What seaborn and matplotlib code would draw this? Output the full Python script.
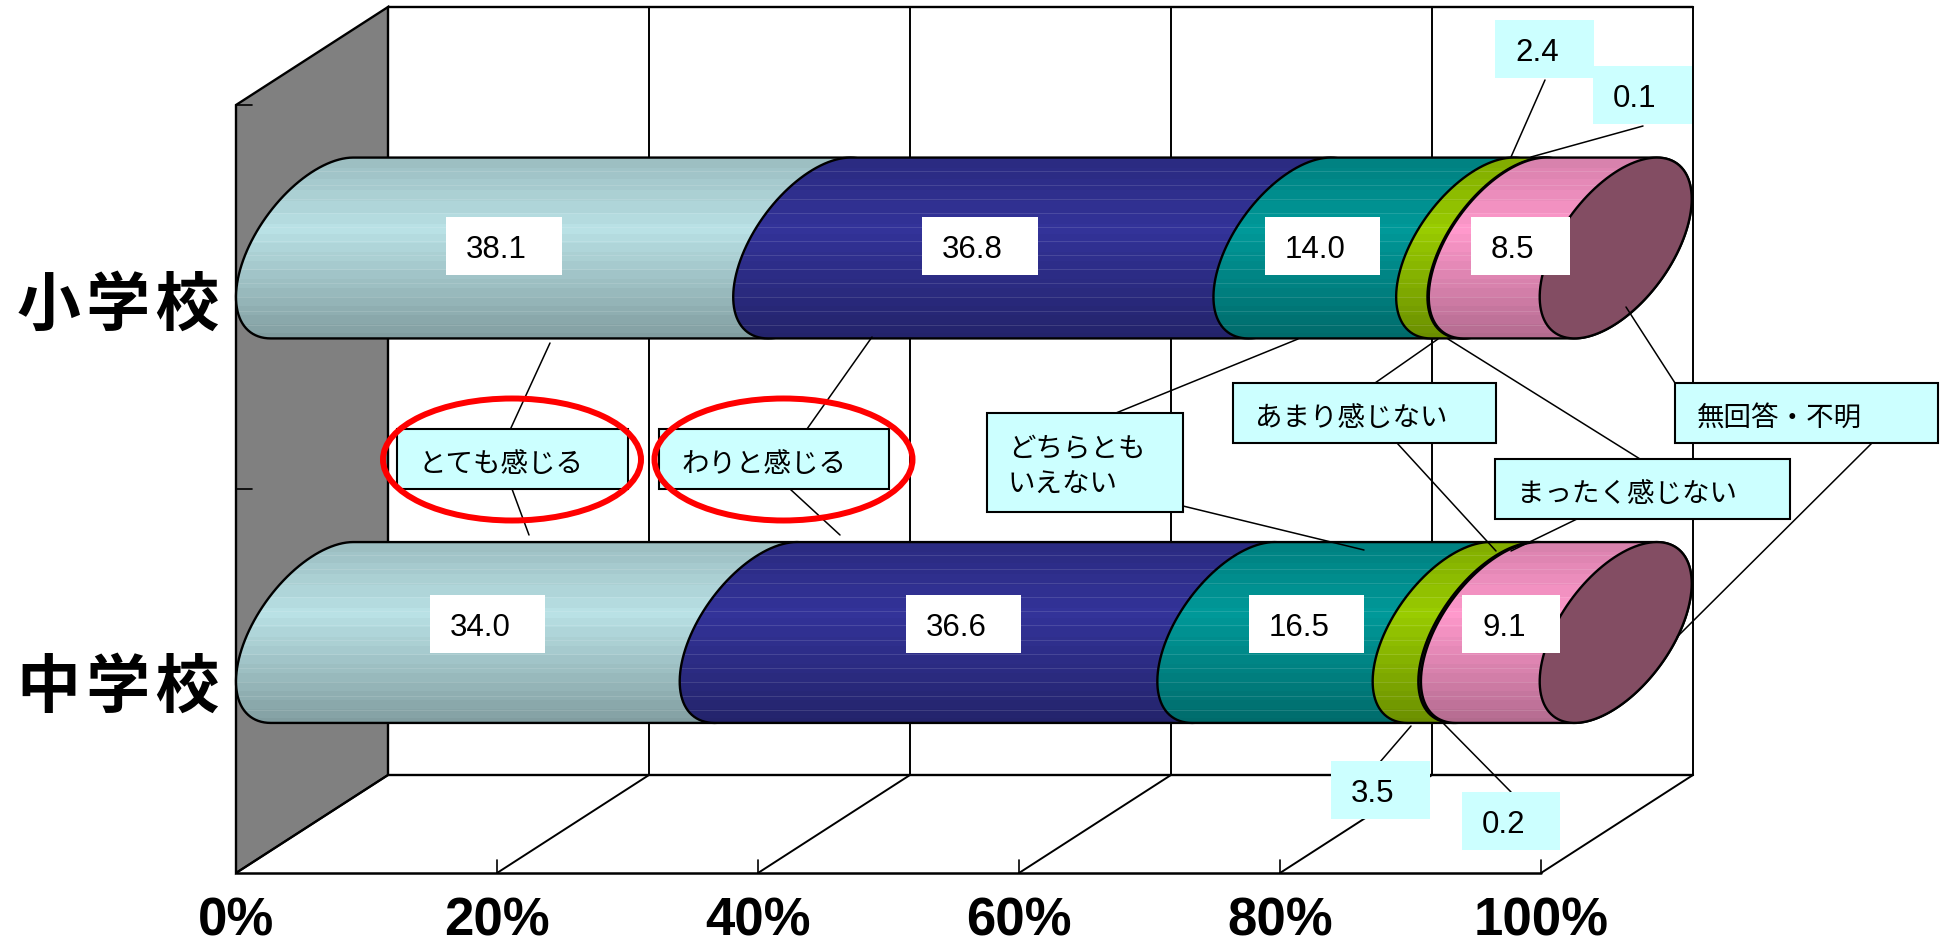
import numpy as np
import pandas as pd
import seaborn as sns
import matplotlib.pyplot as plt
from matplotlib.colors import to_rgb
from matplotlib.patches import Ellipse, PathPatch, Polygon, Rectangle
from matplotlib.path import Path
from matplotlib.transforms import Affine2D

# Data
schools = ['小学校', '中学校']
answers = ['とても感じる', 'わりと感じる', 'どちらともいえない', 'あまり感じない', 'まったく感じない', '無回答・不明']
elementary = [38.1, 36.8, 14.0, 2.4, 0.1, 8.5]
junior_high = [34.0, 36.6, 16.5, 3.5, 0.2, 9.1]
tick_values = [0, 20, 40, 60, 80, 100]
tick_labels = ['0%', '20%', '40%', '60%', '80%', '100%']
bar_colors = ['#B9E1E5', '#333399', '#009999', '#99CC00', '#222222', '#FF99CC']
cap_color = '#834D63'

df = pd.DataFrame({'school': np.repeat(schools, len(answers)),
                   'answer': answers * 2,
                   'value': elementary + junior_high})
df['start'] = df.groupby('school', sort=False)['value'].cumsum() - df['value']

# Layout in reference pixels
W, H = 1944, 943
FRONT_X, BACK_X = 236, 388
FLOOR_FRONT_Y, FLOOR_BACK_Y, TOP_BACK_Y, TOP_FRONT_Y = 873, 775, 7, 105
UNIT_X = 13.05
UNIT_Y = 384.5
ZERO_X = FRONT_X + 76
FIRST_Y = 248
BAR_HEIGHT = 181
DEPTH_X, DEPTH_Y, RADIUS_Y = 76, 49, 76

sns.set_style('white')
plt.rcParams['font.family'] = ['Liberation Sans', 'Noto Sans CJK JP']
plt.rcParams['text.color'] = 'black'
JP = ['Noto Sans CJK JP', 'Liberation Sans']

fig = plt.figure(figsize=(W / 100, H / 100), dpi=100)
ax = fig.add_axes([0, 0, 1, 1])
px = Affine2D().scale(1, -1).translate(0, H)


def set_limits():
    ax.set_xlim(-ZERO_X / UNIT_X, (W - ZERO_X) / UNIT_X)
    ax.set_ylim((H - FIRST_Y) / UNIT_Y, -FIRST_Y / UNIT_Y)


def outline(x0, x1, yc):
    # cylinder silhouette between two tilted end ellipses
    ax_ = DEPTH_X / UNIT_X
    ay, by = DEPTH_Y / UNIT_Y, RADIUS_Y / UNIT_Y
    t0 = np.arctan2(by, ay)
    left = np.linspace(t0, t0 + np.pi, 60)
    right = np.linspace(t0 + np.pi, t0 + 2 * np.pi, 60)
    xs = np.r_[x0 + ax_ * np.cos(left), x1 + ax_ * np.cos(right)]
    ys = np.r_[yc - ay * np.cos(left) - by * np.sin(left),
               yc - ay * np.cos(right) - by * np.sin(right)]
    return np.c_[xs, ys]


def shade(color, n=181):
    # banded vertical shading of the cylinder
    pos = np.linspace(0, 1, n)
    level = np.interp(pos, [0, 0.4, 1], [0.84, 1.0, 0.70])
    level = np.round(level * 40) / 40
    rgb = np.array(to_rgb(color))
    rows = rgb[None, :] * level[:, None]
    rows[::14] = rows[::14] * 0.88 + 0.12
    return rows[:, None, :].clip(0, 1)


# Bars, one seaborn call per answer, stacked with left=
for i, answer in enumerate(answers):
    part = df[df['answer'] == answer]
    sns.barplot(data=part, x='value', y='school', order=schools, orient='h',
                left=part['start'].to_numpy(), color=bar_colors[i], saturation=1,
                width=BAR_HEIGHT / UNIT_Y, ax=ax, linewidth=0, zorder=2)

for i, container in enumerate(ax.containers):
    for rect in container.patches:
        x0, x1 = rect.get_x(), rect.get_x() + rect.get_width()
        y0, y1 = rect.get_y(), rect.get_y() + rect.get_height()
        yc = (y0 + y1) / 2
        shape = Polygon(outline(x0, x1, yc), closed=True, fc='none', ec='black', lw=1.7, zorder=4 + i)
        ax.add_patch(shape)
        clip = PathPatch(Path(shape.get_xy()), transform=ax.transData)
        rect.set_clip_path(clip)
        image = ax.imshow(shade(bar_colors[i]), extent=[x0 - 7, x1 + 7, y1, y0], aspect='auto',
                          interpolation='nearest', zorder=3.5 + i)
        image.set_clip_path(clip)

for y_index in range(len(schools)):
    t = np.linspace(0, 2 * np.pi, 120)
    xs = df['value'][df['school'] == schools[y_index]].sum() + DEPTH_X / UNIT_X * np.cos(t)
    ys = y_index - DEPTH_Y / UNIT_Y * np.cos(t) - RADIUS_Y / UNIT_Y * np.sin(t)
    ax.add_patch(Polygon(np.c_[xs, ys], closed=True, fc=cap_color, ec='black', lw=1.7, zorder=11))

set_limits()
ax.axis('off')

# 3D frame
ax.add_patch(Polygon([(FRONT_X, TOP_FRONT_Y), (BACK_X, TOP_BACK_Y), (BACK_X, FLOOR_BACK_Y), (FRONT_X, FLOOR_FRONT_Y)],
                     closed=True, fc='#808080', ec='black', lw=1.7, transform=px, zorder=1))
for tick, label in zip(tick_values, tick_labels):
    front = FRONT_X + tick * UNIT_X
    back = BACK_X + tick * UNIT_X
    ax.plot([back, back], [TOP_BACK_Y, FLOOR_BACK_Y], color='black', lw=1.4, transform=px, zorder=0)
    ax.plot([front, back], [FLOOR_FRONT_Y, FLOOR_BACK_Y], color='black', lw=1.4, transform=px, zorder=1)
    ax.plot([front, front], [FLOOR_FRONT_Y, FLOOR_FRONT_Y - 13], color='black', lw=1.2, transform=px, zorder=1)
    ax.text(front, 921, label, transform=px, ha='center', va='center', fontsize=38, fontweight='bold')
ax.plot([BACK_X, BACK_X + 100 * UNIT_X], [TOP_BACK_Y, TOP_BACK_Y], color='black', lw=1.7, transform=px, zorder=1)
ax.plot([BACK_X, BACK_X + 100 * UNIT_X], [FLOOR_BACK_Y, FLOOR_BACK_Y], color='black', lw=1.7, transform=px, zorder=1)
ax.plot([FRONT_X, FRONT_X + 100 * UNIT_X], [FLOOR_FRONT_Y, FLOOR_FRONT_Y], color='black', lw=1.8, transform=px, zorder=1)
for y in [TOP_FRONT_Y, 489]:
    ax.plot([FRONT_X, FRONT_X + 16], [y, y], color='black', lw=1.2, transform=px, zorder=1.5)

# School names, spaced out a little like the reference
for name, y in zip(schools, [306, 688]):
    ax.text(118, y, '\u200a'.join(name), transform=px, ha='center', va='center', fontsize=46,
            fontweight='bold', family=JP)


def box(x0, y0, x1, y1, color, edge='none'):
    ax.add_patch(Rectangle((x0, y0), x1 - x0, y1 - y0, fc=color, ec=edge, lw=1.5, transform=px, zorder=16))


# Value labels: box left, right, top, bottom in pixels
value_boxes = [
    (446, 562, 217, 275), (922, 1038, 217, 275), (1265, 1380, 217, 275),
    (1495, 1594, 20, 78), (1593, 1692, 66, 124), (1471, 1570, 217, 275),
    (430, 545, 595, 653), (906, 1021, 595, 653), (1249, 1364, 595, 653),
    (1331, 1430, 761, 819), (1462, 1560, 792, 850), (1462, 1560, 595, 653),
]
value_text_pad = 20
for k, (value, (x0, x1, y0, y1)) in enumerate(zip(df['value'], value_boxes)):
    box(x0, y0, x1, y1, '#CCFFFF' if k in (3, 4, 9, 10) else 'white')
    ax.text(x0 + value_text_pad, (y0 + y1) / 2 + 4, f'{value:.1f}', transform=px, ha='left', va='center',
            fontsize=22.5, zorder=18)

# Answer labels: text, box and text start in pixels
answer_boxes = [
    (answers[0], 397, 628, 429, 489, 419),
    (answers[1], 659, 889, 429, 489, 681),
    ('どちらとも\nいえない', 987, 1183, 413, 512, 1008),
    (answers[3], 1233, 1496, 383, 443, 1255),
    (answers[4], 1495, 1790, 459, 519, 1517),
    (answers[5], 1675, 1938, 383, 443, 1697),
]
for text, x0, x1, y0, y1, tx in answer_boxes:
    box(x0, y0, x1, y1, '#CCFFFF', 'black')
    ax.text(tx, (y0 + y1) / 2 + 5, text, transform=px, ha='left', va='center', fontsize=19.8, family=JP,
            linespacing=1.42, zorder=18)

# Leader lines in pixels
leaders = [
    (550, 343, 510, 430), (512, 489, 529, 535),
    (872, 337, 807, 429), (790, 489, 840, 535),
    (1298, 339, 1116, 413), (1183, 506, 1364, 550),
    (1438, 339, 1375, 383), (1397, 443, 1496, 551),
    (1448, 339, 1640, 459), (1577, 519, 1511, 551),
    (1626, 307, 1675, 383), (1872, 443, 1677, 637),
    (1545, 80, 1511, 157), (1643, 126, 1531, 157),
    (1411, 726, 1380, 762), (1443, 723, 1511, 792),
]
for x0, y0, x1, y1 in leaders:
    ax.plot([x0, x1], [y0, y1], color='black', lw=1.1, transform=px, zorder=15)

# Red highlight rings
for cx in [512, 783.5]:
    ax.add_patch(Ellipse((cx, 459.5), 258, 122, fc='none', ec='#FF0000', lw=4.3, transform=px, zorder=17))

set_limits()
fig.savefig('out.png', dpi=100)
